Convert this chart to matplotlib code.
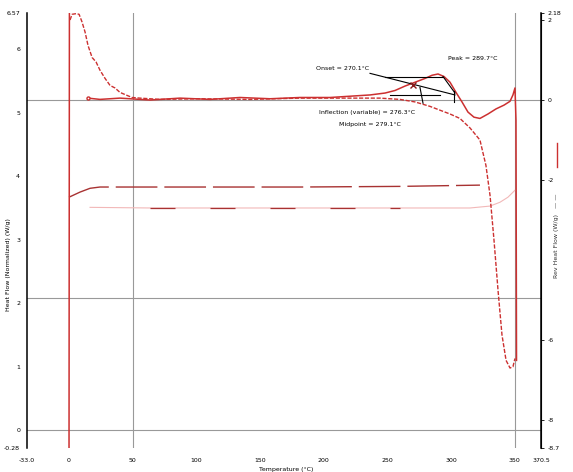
import numpy as np
import matplotlib
matplotlib.use('Agg')
import matplotlib.pyplot as plt
from matplotlib.lines import Line2D

# temperature in degC, heat flow in W/g
# solid curve (NaN splits the start transient from the run)
temp_b = [0.0, 0.3, np.nan, 14.9, 24.3, 40.0, 63.6, 87.1, 110.7, 134.2, 157.8, 181.3,
          204.9, 220.6, 236.3, 248.1, 255.9, 263.8, 271.6, 279.5, 285.0, 289.7, 294.4,
          299.1, 303.8, 308.5, 313.2, 317.9, 322.6, 328.9, 335.2, 341.5, 346.2, 348.5,
          350.1, 350.9, 351.3]
hf_b = [-0.3, 6.6, np.nan, 5.23, 5.21, 5.23, 5.20, 5.23, 5.21, 5.24, 5.22, 5.24,
        5.24, 5.26, 5.28, 5.31, 5.35, 5.42, 5.48, 5.54, 5.59, 5.61, 5.57,
        5.48, 5.32, 5.17, 5.01, 4.93, 4.91, 4.98, 5.06, 5.12, 5.18, 5.28,
        5.39, 4.88, 1.10]

# dashed curve
temp_a = [0.8, 2.4, 5.5, 7.9, 10.2, 12.6, 14.9, 18.1, 21.2, 24.3, 28.3, 32.2, 36.1,
          40.0, 44.7, 49.5, 55.7, 71.4, 102.8, 142.1, 181.3, 212.7, 244.1, 259.8,
          271.6, 283.4, 291.2, 299.1, 306.9, 314.8, 322.6, 327.3, 330.5, 333.6,
          336.8, 339.9, 343.1, 346.2, 348.5, 350.1]
hf_a = [6.46, 6.55, 6.56, 6.55, 6.43, 6.27, 6.06, 5.87, 5.80, 5.67, 5.54, 5.43, 5.39,
        5.32, 5.28, 5.24, 5.23, 5.21, 5.22, 5.21, 5.23, 5.23, 5.23, 5.21,
        5.17, 5.10, 5.04, 4.98, 4.91, 4.76, 4.57, 4.17, 3.70, 3.00,
        2.20, 1.50, 1.10, 0.98, 1.00, 1.13]

# lower pair of curves
temp_c = [0.0, 8.6, 16.5, 24.3, 102.8, 181.3, 259.8, 322.6]
hf_c = [3.67, 3.75, 3.81, 3.83, 3.83, 3.83, 3.84, 3.86]
temp_d = [16.5, 63.6, 181.3, 259.8, 314.8, 330.5, 338.3, 344.6, 350.1]
hf_d = [3.51, 3.50, 3.50, 3.50, 3.50, 3.53, 3.59, 3.67, 3.78]

ref_temps = [50, 350]
ref_levels = [0.0, 2.09, 5.20]

x_ticks = [-33.0, 0, 50, 100, 150, 200, 250, 300, 350, 370.5]
x_labels = ['-33.0', '0', '50', '100', '150', '200', '250', '300', '350', '370.5']
y_ticks = [-0.28, 0, 1, 2, 3, 4, 5, 6, 6.57]
y_labels = ['-0.28', '0', '1', '2', '3', '4', '5', '6', '6.57']
r_ticks = [-8.7, -8, -6, -2, 0, 2, 2.18]
r_labels = ['-8.7', '-8', '-6', '-2', '0', '2', '2.18']

red = '#cc3030'
fs = 4.5

fig = plt.figure(figsize=(5.73, 4.72), dpi=100)
ax = fig.add_axes([0.0471, 0.0508, 0.897, 0.9216])
ax.set_xlim(-33.0, 370.5)
ax.set_ylim(-0.28, 6.57)

for t in ref_temps:
    ax.axvline(t, color='#999999', lw=0.8, zorder=1)
for v in ref_levels:
    ax.axhline(v, color='#999999', lw=0.8, zorder=1)

ax.plot(temp_c, hf_c, color='#a83232', lw=1.0, dashes=(30, 5), zorder=2)
ax.plot(temp_d, hf_d, color='#f2b8b8', lw=0.8, zorder=2)
ax.plot(temp_d[1:4], hf_d[1:4], color='#a83232', lw=0.9, dashes=(20, 28), zorder=2)
ax.plot(temp_a, hf_a, color=red, lw=1.0, dashes=(3, 1.2), zorder=3)
ax.plot(temp_b, hf_b, color=red, lw=1.1, marker='o', markersize=2.2,
        markerfacecolor='white', markevery=[3], zorder=3)

# annotation construction lines
k = dict(color='black', lw=0.8, zorder=4)
ax.plot([236.3, 303.0], [5.62, 5.28], **k)
ax.plot([248.1, 293.6], [5.57, 5.57], **k)
ax.plot([293.6, 303.0], [5.57, 5.31], **k)
ax.plot([302.2, 302.2], [5.35, 5.17], **k)
ax.plot([252.0, 291.2], [5.28, 5.28], **k)
ax.plot([275.5, 277.9], [5.40, 5.15], **k)
ax.plot([270.0], [5.43], marker='x', color='#8b1a1a', markersize=4, mew=1.0, zorder=5)

ax.text(193.9, 5.70, 'Onset = 270.1°C', fontsize=fs, va='center')
ax.text(297.5, 5.86, 'Peak = 289.7°C', fontsize=fs, va='center')
ax.text(196.0, 5.00, 'Inflection (variable) = 276.3°C', fontsize=fs, va='center')
ax.text(212.0, 4.81, 'Midpoint = 279.1°C', fontsize=fs, va='center')

for s in ['top', 'bottom']:
    ax.spines[s].set_visible(False)
ax.spines['left'].set_linewidth(1.1)
ax.set_xticks(x_ticks)
ax.set_xticklabels(x_labels, fontsize=fs)
ax.set_yticks(y_ticks)
ax.set_yticklabels(y_labels, fontsize=fs)
ax.tick_params(axis='x', length=0, pad=7)
ax.tick_params(axis='y', length=0, pad=5)

ax2 = ax.twinx()
ax2.set_ylim(-8.7, 2.175)
for s in ['top', 'bottom', 'left']:
    ax2.spines[s].set_visible(False)
ax2.spines['right'].set_linewidth(1.1)
ax2.set_yticks(r_ticks)
ax2.set_yticklabels(r_labels, fontsize=fs)
ax2.tick_params(axis='y', length=2, width=0.6, pad=3)

fig.text(0.50, 0.006, 'Temperature (°C)', fontsize=fs, ha='center', va='center')
fig.text(0.014, 0.44, 'Heat Flow (Normalized) (W/g)', fontsize=fs, rotation=90,
         ha='center', va='center')
fig.text(0.972, 0.50, 'Rev Heat Flow (W/g)   — —', fontsize=fs, rotation=90,
         ha='center', va='center', color='#333333')
fig.add_artist(Line2D([0.972, 0.972], [0.646, 0.697], color=red, lw=1.0,
                      transform=fig.transFigure))

fig.savefig('out.png', dpi=100)
